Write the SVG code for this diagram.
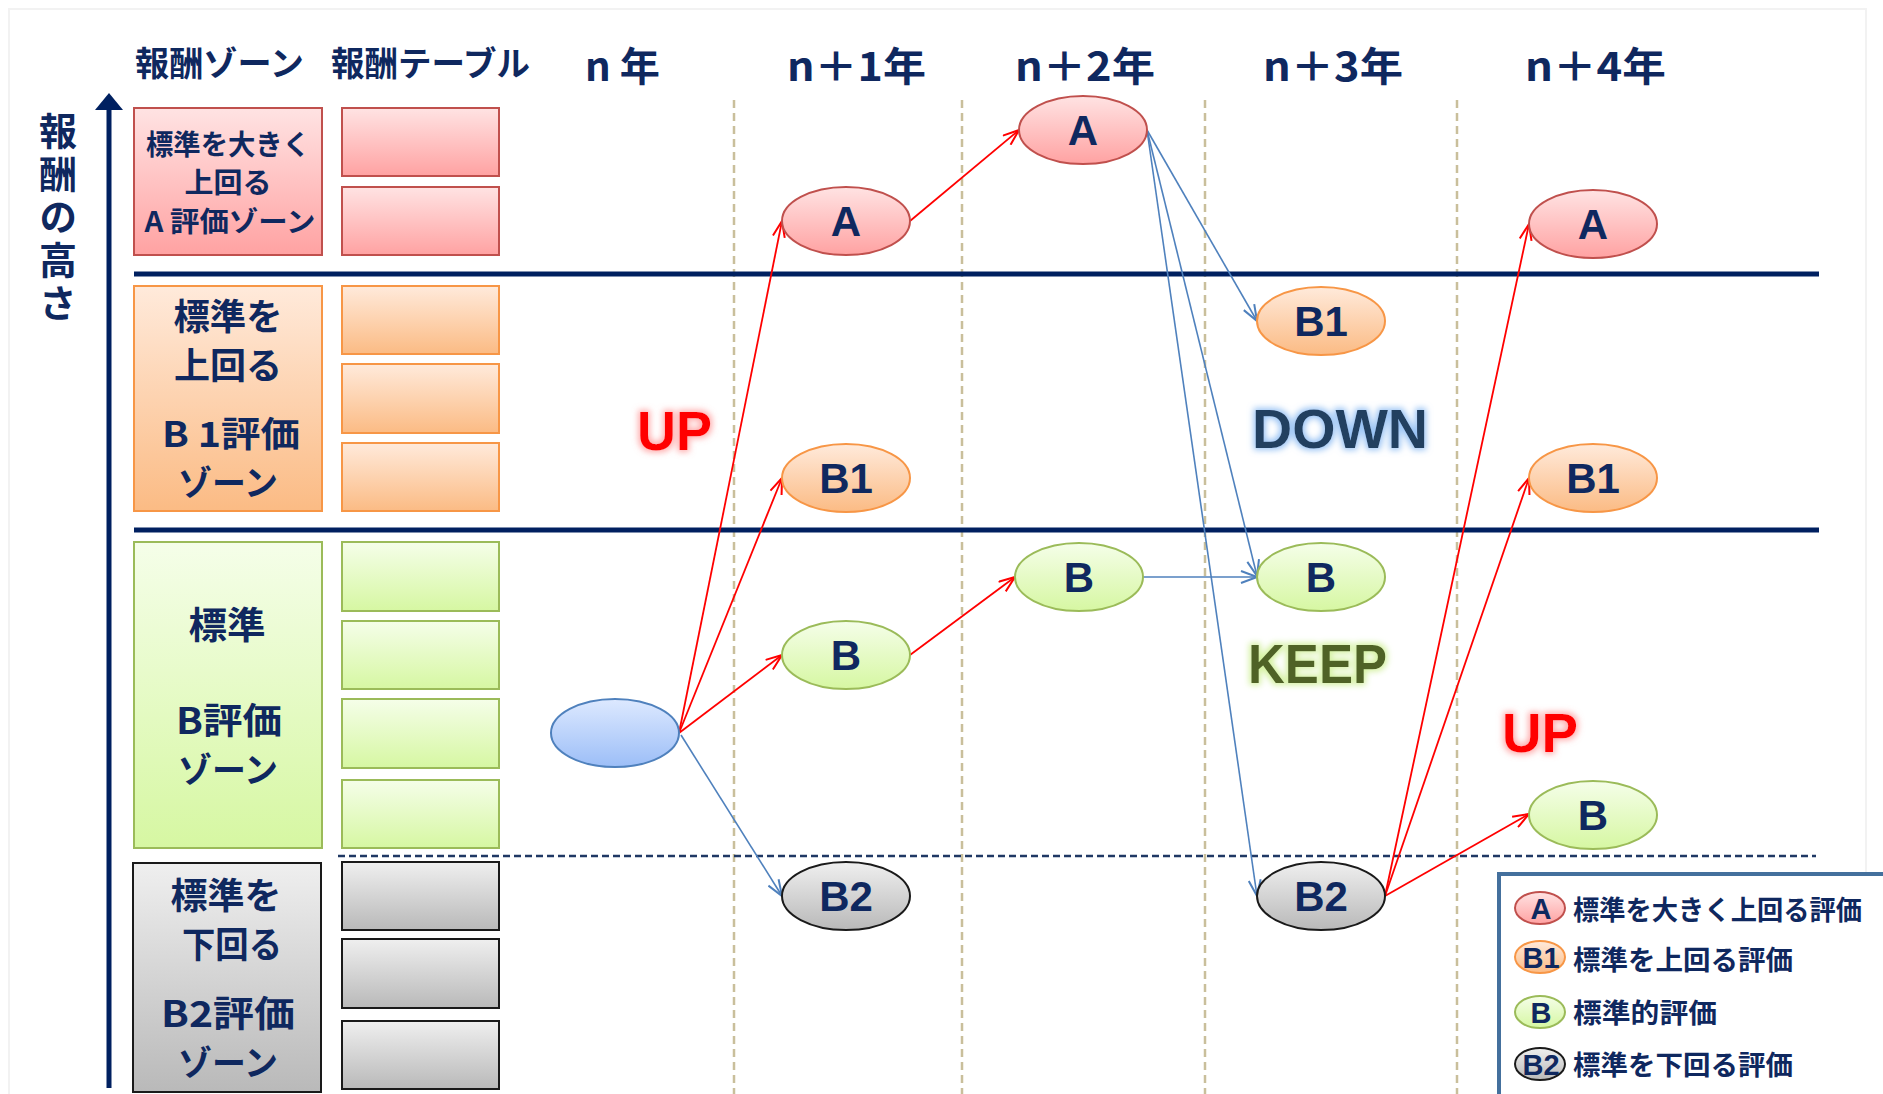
<svg xmlns="http://www.w3.org/2000/svg" width="1883" height="1094" viewBox="0 0 1883 1094">
<defs>
<linearGradient id="gA" x1="0" y1="0" x2="0" y2="1"><stop offset="0" stop-color="#ffe3e3"/><stop offset="1" stop-color="#ffa2a2"/></linearGradient>
<linearGradient id="gB1" x1="0" y1="0" x2="0" y2="1"><stop offset="0" stop-color="#ffeadb"/><stop offset="1" stop-color="#fbbb84"/></linearGradient>
<linearGradient id="gB" x1="0" y1="0" x2="0" y2="1"><stop offset="0" stop-color="#f5fee9"/><stop offset="1" stop-color="#d6f7a2"/></linearGradient>
<linearGradient id="gB2" x1="0" y1="0" x2="0" y2="1"><stop offset="0" stop-color="#efefef"/><stop offset="1" stop-color="#b9b9b9"/></linearGradient>
<linearGradient id="gS" x1="0" y1="0" x2="0" y2="1"><stop offset="0" stop-color="#dde9ff"/><stop offset="1" stop-color="#9cbef7"/></linearGradient>
<marker id="arR" markerUnits="userSpaceOnUse" viewBox="0 0 18 14" markerWidth="18" markerHeight="14" refX="17" refY="7" orient="auto"><path d="M1,1 L17,7 L1,13" fill="none" stroke="#ff0000" stroke-width="2"/></marker>
<marker id="arB" markerUnits="userSpaceOnUse" viewBox="0 0 18 14" markerWidth="18" markerHeight="14" refX="17" refY="7" orient="auto"><path d="M1,1 L17,7 L1,13" fill="none" stroke="#4f81bd" stroke-width="2"/></marker>
<filter id="glowR" x="-20%" y="-40%" width="140%" height="180%"><feMorphology in="SourceAlpha" operator="dilate" radius="2" result="d"/><feGaussianBlur in="d" stdDeviation="3" result="b"/><feFlood flood-color="#ff9090" flood-opacity="0.75"/><feComposite in2="b" operator="in" result="g"/><feMerge><feMergeNode in="g"/><feMergeNode in="SourceGraphic"/></feMerge></filter>
<filter id="glowBl" x="-20%" y="-40%" width="140%" height="180%"><feMorphology in="SourceAlpha" operator="dilate" radius="2" result="d"/><feGaussianBlur in="d" stdDeviation="3" result="b"/><feFlood flood-color="#8fbdf3" flood-opacity="0.9"/><feComposite in2="b" operator="in" result="g"/><feMerge><feMergeNode in="g"/><feMergeNode in="SourceGraphic"/></feMerge></filter>
<filter id="glowG" x="-20%" y="-40%" width="140%" height="180%"><feMorphology in="SourceAlpha" operator="dilate" radius="2" result="d"/><feGaussianBlur in="d" stdDeviation="3" result="b"/><feFlood flood-color="#cdee92" flood-opacity="0.9"/><feComposite in2="b" operator="in" result="g"/><feMerge><feMergeNode in="g"/><feMergeNode in="SourceGraphic"/></feMerge></filter>
</defs>
<style>
.jp{font-family:"Noto Sans CJK JP","Noto Sans",sans-serif;font-weight:700;fill:#0f285f}
.lat{font-family:"Liberation Sans",Arial,sans-serif;font-weight:700;fill:#0f285f}
.mid{text-anchor:middle}
.vert{writing-mode:vertical-rl;letter-spacing:5px}
.zA{fill:url(#gA);stroke:#c0504d;stroke-width:2}
.zB1{fill:url(#gB1);stroke:#f79646;stroke-width:2}
.zB{fill:url(#gB);stroke:#9bbb59;stroke-width:2}
.zB2{fill:url(#gB2);stroke:#1a1a1a;stroke-width:2}
.zS{fill:url(#gS);stroke:#4f81bd;stroke-width:2}
.div{stroke:#c9bf9b;stroke-width:2.5;stroke-dasharray:8 5;fill:none}
.thick{stroke:#002060;stroke-width:5}
.red{stroke:#ff0000;stroke-width:1.8;fill:none;marker-end:url(#arR)}
.blue{stroke:#4f81bd;stroke-width:1.6;fill:none;marker-end:url(#arB)}
.big{font-family:"Liberation Sans",Arial,sans-serif;font-weight:700;font-size:56px}
</style>
<rect x="0" y="0" width="1883" height="1094" fill="#ffffff"/>
<rect x="9" y="9" width="1857" height="1090" fill="none" stroke="#f2f2f2" stroke-width="2"/>

<g id="grid">
<line class="div" x1="734" y1="100" x2="734" y2="1094"/>
<line class="div" x1="962" y1="100" x2="962" y2="1094"/>
<line class="div" x1="1205" y1="100" x2="1205" y2="1094"/>
<line class="div" x1="1457" y1="100" x2="1457" y2="1094"/>
<line class="thick" x1="134" y1="274" x2="1819" y2="274"/>
<line class="thick" x1="134" y1="530" x2="1819" y2="530"/>
<line x1="338" y1="856" x2="1816" y2="856" stroke="#1f3864" stroke-width="2.5" stroke-dasharray="7 4"/>
</g>

<g id="axis">
<line x1="109" y1="106" x2="109" y2="1088" stroke="#002060" stroke-width="5"/>
<path d="M95,110 L109,93 L123,110 Z" fill="#002060"/>
<text class="jp vert" x="58" y="112" font-size="38">報酬の高さ</text>
</g>

<g id="headers">
<text class="jp" x="135" y="76" font-size="34" textLength="169" lengthAdjust="spacingAndGlyphs">報酬ゾーン</text>
<text class="jp" x="331" y="76" font-size="34" textLength="199" lengthAdjust="spacingAndGlyphs">報酬テーブル</text>
<text class="jp" x="585" y="81" font-size="40" textLength="75" lengthAdjust="spacingAndGlyphs">n 年</text>
<text class="jp" x="787" y="81" font-size="40" textLength="139" lengthAdjust="spacingAndGlyphs">n＋1年</text>
<text class="jp" x="1015" y="81" font-size="40" textLength="140" lengthAdjust="spacingAndGlyphs">n＋2年</text>
<text class="jp" x="1263" y="81" font-size="40" textLength="140" lengthAdjust="spacingAndGlyphs">n＋3年</text>
<text class="jp" x="1525" y="81" font-size="40" textLength="141" lengthAdjust="spacingAndGlyphs">n＋4年</text>
</g>

<g id="zoneA">
<rect class="zA" x="134" y="108" width="188" height="147"/>
<text class="jp mid" x="228" y="155" font-size="28" textLength="164" lengthAdjust="spacingAndGlyphs">標準を大きく</text>
<text class="jp mid" x="228" y="193" font-size="28" textLength="87" lengthAdjust="spacingAndGlyphs">上回る</text>
<text class="jp mid" x="230" y="232" font-size="28" textLength="171" lengthAdjust="spacingAndGlyphs">A 評価ゾーン</text>
</g>
<g id="zoneB1">
<rect class="zB1" x="134" y="286" width="188" height="225"/>
<text class="jp mid" x="228" y="330" font-size="36" textLength="109" lengthAdjust="spacingAndGlyphs">標準を</text>
<text class="jp mid" x="228" y="379" font-size="36" textLength="108" lengthAdjust="spacingAndGlyphs">上回る</text>
<text class="jp mid" x="231" y="447" font-size="35" textLength="138" lengthAdjust="spacingAndGlyphs">B 1評価</text>
<text class="jp mid" x="228" y="496" font-size="35" textLength="100" lengthAdjust="spacingAndGlyphs">ゾーン</text>
</g>
<g id="zoneB">
<rect class="zB" x="134" y="542" width="188" height="306"/>
<text class="jp mid" x="227" y="639" font-size="37" textLength="77" lengthAdjust="spacingAndGlyphs">標準</text>
<text class="jp mid" x="229" y="734" font-size="36" textLength="106" lengthAdjust="spacingAndGlyphs">B評価</text>
<text class="jp mid" x="228" y="783" font-size="35" textLength="100" lengthAdjust="spacingAndGlyphs">ゾーン</text>
</g>
<g id="zoneB2">
<rect class="zB2" x="133" y="863" width="188" height="229"/>
<text class="jp mid" x="226" y="909" font-size="36" textLength="111" lengthAdjust="spacingAndGlyphs">標準を</text>
<text class="jp mid" x="232" y="958" font-size="36" textLength="100" lengthAdjust="spacingAndGlyphs">下回る</text>
<text class="jp mid" x="228" y="1027" font-size="36" textLength="134" lengthAdjust="spacingAndGlyphs">B2評価</text>
<text class="jp mid" x="228" y="1076" font-size="35" textLength="100" lengthAdjust="spacingAndGlyphs">ゾーン</text>
</g>

<g id="tables">
<rect class="zA" x="342" y="108" width="157" height="68"/>
<rect class="zA" x="342" y="187" width="157" height="68"/>
<rect class="zB1" x="342" y="286" width="157" height="68"/>
<rect class="zB1" x="342" y="364" width="157" height="69"/>
<rect class="zB1" x="342" y="443" width="157" height="68"/>
<rect class="zB" x="342" y="542" width="157" height="69"/>
<rect class="zB" x="342" y="621" width="157" height="68"/>
<rect class="zB" x="342" y="699" width="157" height="69"/>
<rect class="zB" x="342" y="780" width="157" height="68"/>
<rect class="zB2" x="342" y="862" width="157" height="68"/>
<rect class="zB2" x="342" y="939" width="157" height="69"/>
<rect class="zB2" x="342" y="1021" width="157" height="68"/>
</g>

<g id="connectors">
<line class="red" x1="679" y1="733" x2="782" y2="221"/>
<line class="red" x1="679" y1="733" x2="782" y2="478"/>
<line class="red" x1="679" y1="733" x2="782" y2="655"/>
<line class="blue" x1="681" y1="735" x2="782" y2="896"/>
<line class="red" x1="910" y1="221" x2="1019" y2="130"/>
<line class="red" x1="910" y1="655" x2="1015" y2="577"/>
<line class="blue" x1="1147" y1="130" x2="1257" y2="321"/>
<line class="blue" x1="1147" y1="130" x2="1257" y2="576"/>
<line class="blue" x1="1147" y1="130" x2="1257" y2="896"/>
<line class="blue" x1="1143" y1="577" x2="1257" y2="577"/>
<line class="red" x1="1385" y1="896" x2="1529" y2="224"/>
<line class="red" x1="1385" y1="896" x2="1529" y2="478"/>
<line class="red" x1="1385" y1="896" x2="1529" y2="814"/>
</g>

<g id="node-start"><ellipse class="zS" cx="615" cy="733" rx="64" ry="34"/></g>
<g id="node-A1"><ellipse class="zA" cx="846" cy="221" rx="64" ry="34"/><text class="lat mid" x="846" y="236" font-size="42">A</text></g>
<g id="node-B1-1"><ellipse class="zB1" cx="846" cy="478" rx="64" ry="34"/><text class="lat mid" x="846" y="493" font-size="42">B1</text></g>
<g id="node-B-1"><ellipse class="zB" cx="846" cy="655" rx="64" ry="34"/><text class="lat mid" x="846" y="670" font-size="42">B</text></g>
<g id="node-B2-1"><ellipse class="zB2" cx="846" cy="896" rx="64" ry="34"/><text class="lat mid" x="846" y="911" font-size="42">B2</text></g>
<g id="node-A2"><ellipse class="zA" cx="1083" cy="130" rx="64" ry="34"/><text class="lat mid" x="1083" y="145" font-size="42">A</text></g>
<g id="node-B-2"><ellipse class="zB" cx="1079" cy="577" rx="64" ry="34"/><text class="lat mid" x="1079" y="592" font-size="42">B</text></g>
<g id="node-B1-3"><ellipse class="zB1" cx="1321" cy="321" rx="64" ry="34"/><text class="lat mid" x="1321" y="336" font-size="42">B1</text></g>
<g id="node-B-3"><ellipse class="zB" cx="1321" cy="577" rx="64" ry="34"/><text class="lat mid" x="1321" y="592" font-size="42">B</text></g>
<g id="node-B2-3"><ellipse class="zB2" cx="1321" cy="896" rx="64" ry="34"/><text class="lat mid" x="1321" y="911" font-size="42">B2</text></g>
<g id="node-A4"><ellipse class="zA" cx="1593" cy="224" rx="64" ry="34"/><text class="lat mid" x="1593" y="239" font-size="42">A</text></g>
<g id="node-B1-4"><ellipse class="zB1" cx="1593" cy="478" rx="64" ry="34"/><text class="lat mid" x="1593" y="493" font-size="42">B1</text></g>
<g id="node-B-4"><ellipse class="zB" cx="1593" cy="815" rx="64" ry="34"/><text class="lat mid" x="1593" y="830" font-size="42">B</text></g>

<g id="labels">
<text class="big" x="637" y="450" fill="#ff0000" filter="url(#glowR)" textLength="75" lengthAdjust="spacingAndGlyphs">UP</text>
<text class="big" x="1252" y="448" fill="#243f60" filter="url(#glowBl)" textLength="176" lengthAdjust="spacingAndGlyphs">DOWN</text>
<text class="big" x="1248" y="683" fill="#4f6228" filter="url(#glowG)" textLength="139" lengthAdjust="spacingAndGlyphs">KEEP</text>
<text class="big" x="1502" y="752" fill="#ff0000" filter="url(#glowR)" textLength="76" lengthAdjust="spacingAndGlyphs">UP</text>
</g>

<g id="legend">
<rect x="1499" y="874" width="400" height="240" fill="#ffffff" stroke="#44709d" stroke-width="4"/>
<ellipse class="zA" cx="1540" cy="908" rx="25" ry="16"/><text class="lat mid" x="1541" y="919" font-size="29">A</text>
<text class="jp" x="1573" y="920" font-size="27" textLength="289" lengthAdjust="spacingAndGlyphs">標準を大きく上回る評価</text>
<ellipse class="zB1" cx="1540" cy="957" rx="25" ry="16"/><text class="lat mid" x="1541" y="968" font-size="29">B1</text>
<text class="jp" x="1573" y="970" font-size="27" textLength="220" lengthAdjust="spacingAndGlyphs">標準を上回る評価</text>
<ellipse class="zB" cx="1540" cy="1012" rx="25" ry="16"/><text class="lat mid" x="1541" y="1023" font-size="29">B</text>
<text class="jp" x="1573" y="1023" font-size="27" textLength="144" lengthAdjust="spacingAndGlyphs">標準的評価</text>
<ellipse class="zB2" cx="1540" cy="1064" rx="25" ry="16"/><text class="lat mid" x="1541" y="1075" font-size="29">B2</text>
<text class="jp" x="1573" y="1075" font-size="27" textLength="220" lengthAdjust="spacingAndGlyphs">標準を下回る評価</text>
</g>
</svg>
